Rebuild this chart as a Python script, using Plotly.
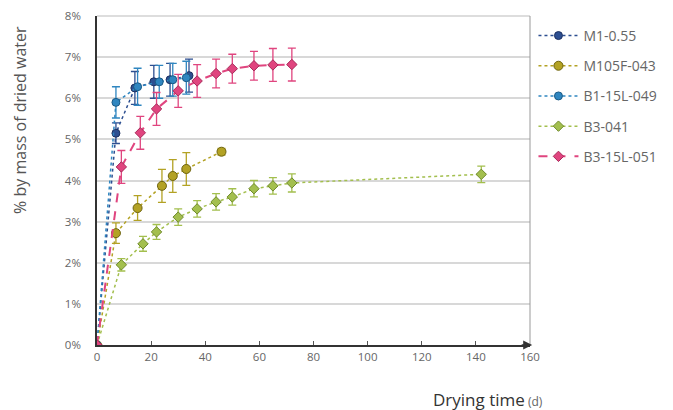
import plotly.graph_objects as go

# ---- data ----
m1_x = [0, 7, 14, 21, 27, 34]
m1_y = [0, 5.15, 6.25, 6.4, 6.45, 6.55]
m1_e = [0, 0.25, 0.4, 0.4, 0.4, 0.4]

m105_x = [0, 7, 15, 24, 28, 33, 46]
m105_y = [0, 2.72, 3.33, 3.87, 4.11, 4.28, 4.7]
m105_e = [0, 0.25, 0.3, 0.4, 0.4, 0.4, 0.08]

b1_x = [0, 7, 15, 23, 28, 33]
b1_y = [0, 5.9, 6.28, 6.4, 6.45, 6.5]
b1_e = [0, 0.38, 0.45, 0.4, 0.4, 0.4]

b3_x = [0, 9, 17, 22, 30, 37, 44, 50, 58, 65, 72, 142]
b3_y = [0, 1.95, 2.46, 2.75, 3.11, 3.31, 3.48, 3.6, 3.8, 3.87, 3.94, 4.15]
b3_e = [0, 0.15, 0.18, 0.18, 0.2, 0.2, 0.2, 0.2, 0.2, 0.2, 0.22, 0.2]

b315_x = [0, 9, 16, 22, 30, 37, 44, 50, 58, 65, 72]
b315_y = [0, 4.33, 5.16, 5.74, 6.18, 6.42, 6.6, 6.72, 6.79, 6.81, 6.82]
b315_e = [0, 0.4, 0.4, 0.4, 0.4, 0.4, 0.35, 0.35, 0.35, 0.4, 0.4]

x_ticks = [0, 20, 40, 60, 80, 100, 120, 140, 160]
y_ticks = [0, 1, 2, 3, 4, 5, 6, 7, 8]
y_labels = [f"{v}%" for v in y_ticks]

series = [
    ("M1-0.55", m1_x, m1_y, m1_e, "#2d4f91", "#1c3060", "dot", "circle", 8),
    ("M105F-043", m105_x, m105_y, m105_e, "#b3a224", "#6e6410", "dot", "circle", 9),
    ("B1-15L-049", b1_x, b1_y, b1_e, "#2f86c0", "#1a5a86", "dot", "circle", 8),
    ("B3-041", b3_x, b3_y, b3_e, "#a3bf4e", "#6f8a2a", "dot", "diamond", 8),
    ("B3-15L-051", b315_x, b315_y, b315_e, "#e0457f", "#a82a5a", "dash", "diamond", 8),
]

fig = go.Figure()
for i, (name, xs, ys, es, col, edge, dash, sym, sz) in enumerate(series):
    fig.add_trace(go.Scatter(
        x=xs, y=ys, name=name, mode="lines+markers",
        legendgroup=f"g{i}",
        line=dict(color=col, dash=dash, width=2 if dash == "dash" else 1.5),
        marker=dict(color=col, symbol=sym, size=sz, line=dict(color=edge, width=1)),
        error_y=dict(type="data", array=es, color=col, thickness=1.3, width=4, visible=True),
    ))

fig.update_layout(
    width=665, height=402,
    margin=dict(l=89, r=143, t=8, b=65),
    paper_bgcolor="white", plot_bgcolor="white",
    font=dict(family="Open Sans, sans-serif", color="#555555", size=11),
    legend=dict(x=1.008, xanchor="left", y=0.988, yanchor="top",
                font=dict(size=14, color="#666666"), tracegroupgap=9,
                itemwidth=40, bgcolor="rgba(0,0,0,0)"),
    xaxis=dict(range=[0, 160], tickvals=x_ticks, ticktext=[str(v) for v in x_ticks],
               showgrid=False, zeroline=False, showline=True, linecolor="#333333",
               linewidth=1.5, ticks="inside", ticklen=4, tickcolor="#555555",
               mirror=False, automargin=False, tickfont=dict(size=11.5, color="#666666")),
    yaxis=dict(range=[0, 8], tickvals=y_ticks, ticktext=y_labels,
               showgrid=True, gridcolor="#d8d8d8", gridwidth=1.5, zeroline=False,
               showline=True, linecolor="#333333", linewidth=1.5,
               ticks="", ticklabelstandoff=12, automargin=False,
               tickfont=dict(size=11.5, color="#666666")),
    shapes=[
        dict(type="line", xref="paper", yref="paper", x0=0, x1=1, y0=1, y1=1,
             line=dict(color="#bbbbbb", width=1)),
        dict(type="line", xref="paper", yref="paper", x0=1, x1=1, y0=0, y1=1,
             line=dict(color="#999999", width=1)),
    ],
    annotations=[
        dict(xref="paper", yref="paper", x=1.005, y=0, ax=-12, ay=0,
             showarrow=True, arrowhead=2, arrowsize=1.2, arrowwidth=1.5,
             arrowcolor="#333333", text=""),
        dict(xref="paper", yref="paper", x=1.035, y=-0.167, xanchor="right", yanchor="middle",
             showarrow=False,
             text="<span style='font-size:17px;color:#333333'>Drying time</span>"
                  "<span style='font-size:12px;color:#666666'> (d)</span>"),
        dict(xref="paper", yref="paper", x=-0.178, y=0.684, xanchor="center", yanchor="middle",
             showarrow=False, textangle=-90,
             text="% by mass of dried water", font=dict(size=16, color="#555555")),
    ],
)

fig.write_html("out.html")
